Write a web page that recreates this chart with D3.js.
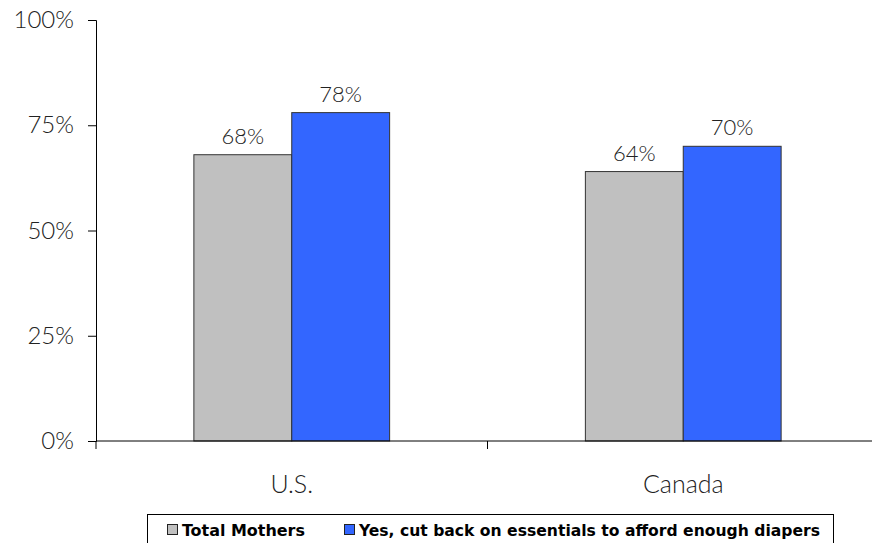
<!DOCTYPE html>
<html><head><meta charset="utf-8">
<script src="https://cdn.jsdelivr.net/npm/d3@7"></script>
<style>
html,body{margin:0;padding:0;background:#fff;}
svg{display:block;}
.lt{font-family:Lato,"Open Sans",sans-serif;font-weight:300;fill:#222;}
</style></head><body>
<svg id="c" width="872" height="543"></svg>
<script>
const categories = ["U.S.", "Canada"];
const seriesNames = ["Total Mothers", "Yes, cut back on essentials to afford enough diapers"];
const totalMothers = [68, 64];
const cutBack = [78, 70];
const yTicks = [0, 25, 50, 75, 100];
const colors = ["#C0C0C0", "#3366FF"];

const seriesValues = [totalMothers, cutBack];
const svg = d3.select("#c");

const y = d3.scaleLinear().domain([0, 100]).range([441, 20]);
const x0 = d3.scaleBand().domain(categories).range([96, 879]).padding(0);
const x1 = d3.scaleBand().domain(d3.range(seriesNames.length)).range([0, x0.bandwidth()]).paddingInner(0).paddingOuter(1);

// bars
categories.forEach((c, ci) => {
  const g = svg.append("g").attr("transform", `translate(${x0(c)},0)`);
  seriesValues.forEach((vals, si) => {
    g.append("rect")
      .attr("x", x1(si)).attr("width", x1.bandwidth())
      .attr("y", y(vals[ci])).attr("height", y(0) - y(vals[ci]))
      .attr("fill", colors[si]).attr("stroke", "#333").attr("stroke-width", 1);
    g.append("text").attr("class", "lt")
      .attr("x", x1(si) + x1.bandwidth() / 2)
      .attr("y", y(vals[ci]) - 11)
      .attr("text-anchor", "middle").attr("font-size", 22)
      .text(vals[ci] + "%");
  });
});

// y axis
const yAxis = d3.axisLeft(y).tickValues(yTicks).tickFormat(d => d + "%").tickSize(8).tickPadding(14);
const ya = svg.append("g").attr("transform", "translate(96,0)").call(yAxis);
ya.select(".domain").attr("stroke", "#000");
ya.selectAll(".tick line").attr("stroke", "#000");
ya.selectAll(".tick text").attr("class", "lt").attr("font-size", 24).attr("fill", "#222");

// x axis line
svg.append("line").attr("x1", 96).attr("x2", 872).attr("y1", y(0)).attr("y2", y(0)).attr("stroke", "#000");
// x ticks at category boundaries
const bounds = [x0(categories[0]), x0(categories[1])];
svg.selectAll(".xt").data(bounds).enter().append("line")
  .attr("x1", d => d).attr("x2", d => d).attr("y1", y(0)).attr("y2", y(0) + 8).attr("stroke", "#000");
// category labels
svg.selectAll(".xl").data(categories).enter().append("text").attr("class", "lt")
  .attr("x", d => x0(d) + x0.bandwidth() / 2).attr("y", 493)
  .attr("text-anchor", "middle").attr("font-size", 25).text(d => d);

// legend
const lg = svg.append("g");
lg.append("rect").attr("x", 147.5).attr("y", 514.5).attr("width", 686).attr("height", 40)
  .attr("fill", "#fff").attr("stroke", "#000");
const legX = [167, 344];
const legW = [123, 461];
seriesNames.forEach((n, i) => {
  lg.append("rect").attr("x", legX[i] + 0.5).attr("y", 524.5).attr("width", 10).attr("height", 10)
    .attr("fill", colors[i]).attr("stroke", "#222");
  lg.append("text").attr("x", legX[i] + 15).attr("y", 535.5)
    .attr("font-family", "DejaVu Sans Condensed, DejaVu Sans, sans-serif").attr("font-weight", "bold")
    .attr("font-size", 15).attr("fill", "#000")
    .attr("textLength", legW[i]).attr("lengthAdjust", "spacingAndGlyphs")
    .text(n);
});
</script></body></html>
